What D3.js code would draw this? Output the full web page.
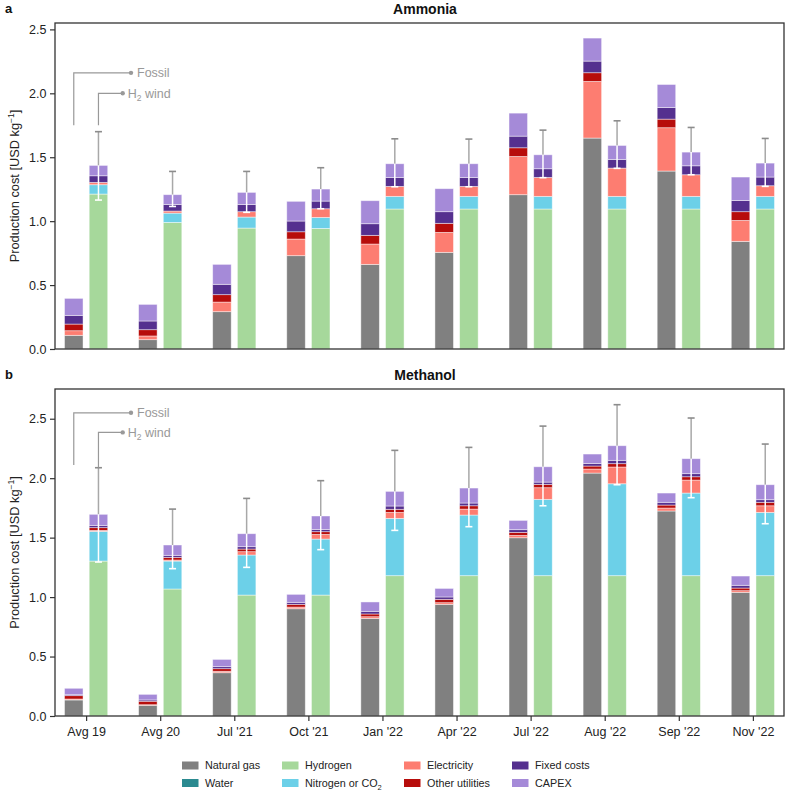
<!DOCTYPE html>
<html>
<head>
<meta charset="utf-8">
<script src="https://cdn.jsdelivr.net/npm/d3@7/dist/d3.min.js"></script>
<style>
  body { margin: 0; background: #fff; }
  svg { font-family: "Liberation Sans", Arial, sans-serif; }
</style>
</head>
<body>
<svg id="chart" width="788" height="792"></svg>
<script>
// ---------------- DATA ----------------
const categories = ["Avg 19", "Avg 20", "Jul '21", "Oct '21", "Jan '22", "Apr '22", "Jul '22", "Aug '22", "Sep '22", "Nov '22"];
const components = ["Natural gas", "Water", "Hydrogen", "Nitrogen or CO2", "Electricity", "Other utilities", "Fixed costs", "CAPEX"];
const colors = ["#808080", "#2b8a90", "#a6d89b", "#6cd0e8", "#fd7d71", "#b70d0b", "#55308f", "#a58ad8"];

// Ammonia – fossil route
const nh3FossilGas   = [0.107, 0.073, 0.292, 0.730, 0.662, 0.756, 1.207, 1.650, 1.392, 0.842];
const nh3FossilWater = [0, 0, 0, 0, 0, 0, 0, 0, 0, 0];
const nh3FossilElec  = [0.036, 0.029, 0.075, 0.130, 0.159, 0.156, 0.299, 0.443, 0.339, 0.164];
const nh3FossilUtil  = [0.052, 0.049, 0.058, 0.057, 0.068, 0.071, 0.068, 0.068, 0.067, 0.068];
const nh3FossilFixed = [0.068, 0.068, 0.081, 0.084, 0.091, 0.091, 0.091, 0.091, 0.091, 0.088];
const nh3FossilCapex = [0.133, 0.130, 0.156, 0.154, 0.180, 0.180, 0.180, 0.180, 0.180, 0.183];
// Ammonia – H2 wind route
const nh3H2Hydrogen  = [1.212, 0.990, 0.946, 0.943, 1.095, 1.095, 1.095, 1.095, 1.095, 1.095];
const nh3H2Nitrogen  = [0.073, 0.073, 0.086, 0.086, 0.099, 0.099, 0.099, 0.099, 0.099, 0.099];
const nh3H2Elec      = [0.018, 0.016, 0.042, 0.068, 0.078, 0.078, 0.148, 0.221, 0.169, 0.083];
const nh3H2Util      = [0, 0, 0, 0, 0, 0, 0, 0, 0, 0];
const nh3H2Fixed     = [0.052, 0.052, 0.057, 0.060, 0.070, 0.070, 0.068, 0.068, 0.070, 0.068];
const nh3H2Capex     = [0.081, 0.076, 0.094, 0.094, 0.107, 0.107, 0.109, 0.109, 0.107, 0.109];
const nh3ErrLow      = [1.165, 1.115, 1.069, 1.097, 1.269, 1.269, 1.340, 1.413, 1.363, 1.272];
const nh3ErrHigh     = [1.700, 1.389, 1.389, 1.418, 1.644, 1.642, 1.712, 1.785, 1.733, 1.647];

// Methanol – fossil route
const meohFossilGas   = [0.135, 0.090, 0.364, 0.902, 0.821, 0.939, 1.499, 2.043, 1.724, 1.040];
const meohFossilWater = [0, 0, 0, 0, 0, 0, 0, 0, 0, 0];
const meohFossilElec  = [0.008, 0.005, 0.012, 0.014, 0.014, 0.014, 0.020, 0.034, 0.025, 0.014];
const meohFossilUtil  = [0.028, 0.029, 0.022, 0.023, 0.023, 0.028, 0.025, 0.025, 0.025, 0.022];
const meohFossilFixed = [0.008, 0.011, 0.017, 0.017, 0.022, 0.020, 0.023, 0.022, 0.023, 0.023];
const meohFossilCapex = [0.054, 0.047, 0.061, 0.067, 0.079, 0.072, 0.078, 0.079, 0.078, 0.078];
// Methanol – H2 wind route
const meohH2Hydrogen  = [1.303, 1.068, 1.017, 1.017, 1.180, 1.180, 1.180, 1.180, 1.180, 1.180];
const meohH2CO2       = [0.250, 0.235, 0.337, 0.471, 0.482, 0.510, 0.642, 0.773, 0.695, 0.532];
const meohH2Elec      = [0.008, 0.009, 0.028, 0.039, 0.050, 0.050, 0.098, 0.141, 0.109, 0.056];
const meohH2Util      = [0.023, 0.022, 0.022, 0.023, 0.026, 0.028, 0.028, 0.028, 0.028, 0.029];
const meohH2Fixed     = [0.019, 0.017, 0.020, 0.019, 0.028, 0.023, 0.019, 0.028, 0.026, 0.022];
const meohH2Capex     = [0.093, 0.087, 0.109, 0.113, 0.123, 0.126, 0.129, 0.123, 0.126, 0.126];
const meohErrLow      = [1.295, 1.239, 1.250, 1.399, 1.561, 1.592, 1.768, 1.945, 1.836, 1.617];
const meohErrHigh     = [2.088, 1.740, 1.830, 1.979, 2.234, 2.259, 2.438, 2.618, 2.506, 2.287];

const yTicks = [0, 0.5, 1.0, 1.5, 2.0, 2.5];

// ---------------- BUILD TABLES ----------------
function zeros() { return categories.map(() => 0); }
function fossilRows(gas, water, elec, util, fixed, capex) {
  const z = zeros();
  const cols = [gas, water, z, z, elec, util, fixed, capex];
  return categories.map((c, i) => cols.map(a => a[i]));
}
function h2Rows(hyd, n2, elec, util, fixed, capex) {
  const z = zeros();
  const cols = [z, z, hyd, n2, elec, util, fixed, capex];
  return categories.map((c, i) => cols.map(a => a[i]));
}

const panels = [
  { letter: "a", title: "Ammonia", top: 23, bottom: 349, ymax: 2.55, xAxis: false,
    fossil: fossilRows(nh3FossilGas, nh3FossilWater, nh3FossilElec, nh3FossilUtil, nh3FossilFixed, nh3FossilCapex),
    h2: h2Rows(nh3H2Hydrogen, nh3H2Nitrogen, nh3H2Elec, nh3H2Util, nh3H2Fixed, nh3H2Capex),
    errLow: nh3ErrLow, errHigh: nh3ErrHigh,
    ann: { fossilLow: 1.75, fossilHigh: 2.16, h2Low: 1.75, h2High: 2.0 } },
  { letter: "b", title: "Methanol", top: 389, bottom: 716, ymax: 2.75, xAxis: true,
    fossil: fossilRows(meohFossilGas, meohFossilWater, meohFossilElec, meohFossilUtil, meohFossilFixed, meohFossilCapex),
    h2: h2Rows(meohH2Hydrogen, meohH2CO2, meohH2Elec, meohH2Util, meohH2Fixed, meohH2Capex),
    errLow: meohErrLow, errHigh: meohErrHigh,
    ann: { fossilLow: 2.11, fossilHigh: 2.55, h2Low: 2.09, h2High: 2.385 } }
];

// ---------------- DRAW ----------------
const svg = d3.select("#chart");
const left = 55, right = 784;
const x = d3.scaleLinear().domain([-0.42, 9.42]).range([left, right]);
const offset = 1 / 6, barW = 0.25;
const bw = x(barW) - x(0);
const tickFont = 12.5;

panels.forEach(p => {
  const y = d3.scaleLinear().domain([0, p.ymax]).range([p.bottom, p.top]);
  const g = svg.append("g");

  function drawStack(rows, shift) {
    rows.forEach((vals, i) => {
      let acc = 0;
      vals.forEach((v, k) => {
        if (v > 0) {
          g.append("rect")
            .attr("x", x(i + shift) - bw / 2)
            .attr("width", bw)
            .attr("y", y(acc + v))
            .attr("height", y(acc) - y(acc + v))
            .attr("fill", colors[k])
            .attr("stroke", "#ffffff")
            .attr("stroke-opacity", 0.55)
            .attr("stroke-width", 0.8);
        }
        acc += v;
      });
    });
  }
  drawStack(p.fossil, -offset);
  drawStack(p.h2, offset);

  // error bars on H2 bars
  p.h2.forEach((vals, i) => {
    const total = d3.sum(vals);
    const cx = x(i + offset);
    g.append("line").attr("x1", cx).attr("x2", cx)
      .attr("y1", y(total)).attr("y2", y(p.errHigh[i]))
      .attr("stroke", "#a8a8a8").attr("stroke-width", 1.5);
    g.append("line").attr("x1", cx - 3.5).attr("x2", cx + 3.5)
      .attr("y1", y(p.errHigh[i])).attr("y2", y(p.errHigh[i]))
      .attr("stroke", "#8c8c8c").attr("stroke-width", 1.6);
    g.append("line").attr("x1", cx).attr("x2", cx)
      .attr("y1", y(p.errLow[i])).attr("y2", y(total))
      .attr("stroke", "#ffffff").attr("stroke-width", 1.5);
    g.append("line").attr("x1", cx - 3.5).attr("x2", cx + 3.5)
      .attr("y1", y(p.errLow[i])).attr("y2", y(p.errLow[i]))
      .attr("stroke", "#ffffff").attr("stroke-width", 1.6);
  });

  // annotation
  const annColor = "#999999";
  const fx = x(0 - offset), hx = x(0 + offset);
  const fEnd = 131, hEnd = 122.7;
  g.append("path")
    .attr("d", `M${fx},${y(p.ann.fossilLow)} V${y(p.ann.fossilHigh)} H${fEnd}`)
    .attr("fill", "none").attr("stroke", annColor).attr("stroke-width", 1.2);
  g.append("circle").attr("cx", fEnd).attr("cy", y(p.ann.fossilHigh)).attr("r", 2.2).attr("fill", annColor);
  g.append("text").attr("x", fEnd + 6).attr("y", y(p.ann.fossilHigh)).attr("dy", "0.35em")
    .attr("font-size", 12.5).attr("fill", annColor).text("Fossil");
  g.append("path")
    .attr("d", `M${hx},${y(p.ann.h2Low)} V${y(p.ann.h2High)} H${hEnd}`)
    .attr("fill", "none").attr("stroke", annColor).attr("stroke-width", 1.2);
  g.append("circle").attr("cx", hEnd).attr("cy", y(p.ann.h2High)).attr("r", 2.2).attr("fill", annColor);
  const t = g.append("text").attr("x", hEnd + 5).attr("y", y(p.ann.h2High)).attr("dy", "0.35em")
    .attr("font-size", 12.5).attr("fill", annColor);
  t.append("tspan").text("H");
  t.append("tspan").attr("font-size", 8.5).attr("dy", "3").text("2");
  t.append("tspan").attr("dy", "-3").text(" wind");

  // frame
  g.append("rect").attr("x", left).attr("y", p.top).attr("width", right - left).attr("height", p.bottom - p.top)
    .attr("fill", "none").attr("stroke", "#333").attr("stroke-width", 1.3);

  // y axis
  const yAxis = d3.axisLeft(y).tickValues(yTicks).tickFormat(d3.format(".1f")).tickSize(5).tickPadding(3.5);
  const ya = g.append("g").attr("transform", `translate(${left},0)`).call(yAxis);
  ya.select(".domain").remove();
  ya.selectAll("line").attr("stroke", "#333").attr("stroke-width", 1.2);
  ya.selectAll("text").attr("font-size", tickFont).attr("fill", "#222").attr("font-family", "Liberation Sans, Arial, sans-serif");

  if (p.xAxis) {
    const xAxis = d3.axisBottom(x).tickValues(d3.range(categories.length)).tickFormat(i => categories[i]).tickSize(5).tickPadding(6);
    const xa = g.append("g").attr("transform", `translate(0,${p.bottom})`).call(xAxis);
    xa.select(".domain").remove();
    xa.selectAll("line").attr("stroke", "#333").attr("stroke-width", 1.2);
    xa.selectAll("text").attr("font-size", tickFont).attr("fill", "#222").attr("font-family", "Liberation Sans, Arial, sans-serif");
  }

  // y label
  const cy = (p.top + p.bottom) / 2;
  const yl = g.append("text").attr("transform", `translate(19,${cy}) rotate(-90)`)
    .attr("text-anchor", "middle").attr("font-size", 12.8).attr("fill", "#222");
  yl.append("tspan").text("Production cost [USD kg");
  yl.append("tspan").attr("font-size", 8.5).attr("dy", "-5").text("−1");
  yl.append("tspan").attr("dy", "5").text("]");

  // title
  g.append("text").attr("x", 425).attr("y", p.top - 9).attr("text-anchor", "middle")
    .attr("font-size", 14).attr("font-weight", "bold").attr("fill", "#111").text(p.title);
  g.append("text").attr("x", 5).attr("y", p.top - 10)
    .attr("font-size", 13).attr("font-weight", "bold").attr("fill", "#111").text(p.letter);
});

// ---------------- LEGEND ----------------
const legendCols = [182, 282, 404, 512];
const legendRows = [765.5, 783];
components.forEach((name, k) => {
  const col = Math.floor(k / 2), row = k % 2;
  const lx = legendCols[col], ly = legendRows[row];
  svg.append("rect").attr("x", lx).attr("y", ly - 4).attr("width", 16.5).attr("height", 8)
    .attr("fill", colors[k]);
  const tx = svg.append("text").attr("x", lx + 23).attr("y", ly).attr("dy", "0.35em")
    .attr("font-size", 10.8).attr("fill", "#222");
  if (name === "Nitrogen or CO2") {
    tx.append("tspan").text("Nitrogen or CO");
    tx.append("tspan").attr("font-size", 7.5).attr("dy", "3").text("2");
  } else {
    tx.text(name);
  }
});
</script>
</body>
</html>
